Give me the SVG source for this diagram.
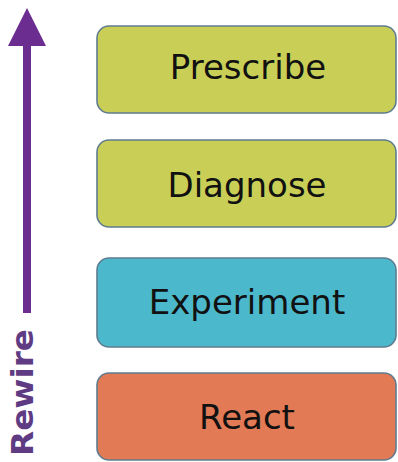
<svg xmlns="http://www.w3.org/2000/svg" width="398" height="462" viewBox="0 0 398 462">
<style>
.box{stroke:#5f7c90;stroke-width:1.6}
.lbl{font-family:"DejaVu Sans",sans-serif;font-size:34px;fill:#111;text-anchor:middle}
.y{fill:#c9cf56}.b{fill:#4cb8cc}.o{fill:#e17a55}
</style>
<rect width="398" height="462" fill="#fff"/>
<g id="connectors">
<rect x="23" y="44" width="8" height="269" fill="#6b2d8f"/>
<polygon points="27,8 46,46 8,46" fill="#6b2d8f"/>
</g>
<g id="rewire">
<text transform="translate(33,456) rotate(-90)" font-family="DejaVu Sans, sans-serif" font-weight="bold" font-size="31" fill="#5e3b82" textLength="127" lengthAdjust="spacingAndGlyphs">Rewire</text>
</g>
<g id="prescribe">
<rect class="box y" x="97" y="26" width="299" height="87" rx="12"/>
<text class="lbl" x="248" y="79">Prescribe</text>
</g>
<g id="diagnose">
<rect class="box y" x="97" y="140" width="299" height="87" rx="12"/>
<text class="lbl" x="247" y="197">Diagnose</text>
</g>
<g id="experiment">
<rect class="box b" x="97" y="258" width="299" height="89" rx="12"/>
<text class="lbl" x="247" y="314">Experiment</text>
</g>
<g id="react">
<rect class="box o" x="97" y="373" width="299" height="87" rx="12"/>
<text class="lbl" x="247" y="429">React</text>
</g>
</svg>
